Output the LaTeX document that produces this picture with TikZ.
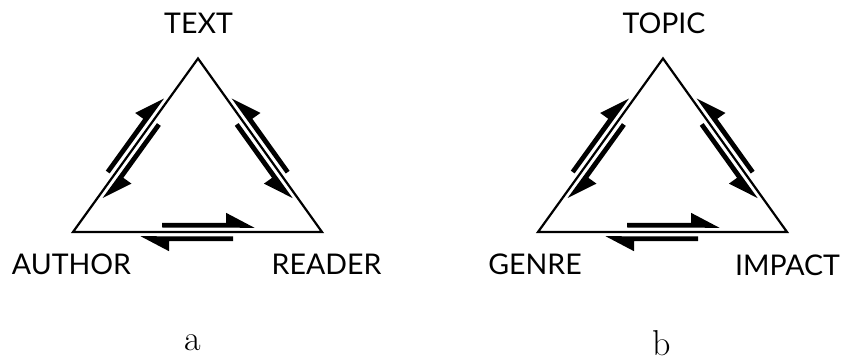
\documentclass[tikz,border=0pt]{standalone}
\usepackage{fontspec}
\setsansfont{Lato}
\usetikzlibrary{calc}
\tikzset{
  edgeline/.style={line width=2.2pt, line join=miter},
  harp/.style={fill=black, draw=none},
  lbl/.style={font=\fontsize{28.5}{30}\selectfont\sffamily, inner sep=0pt, anchor=base},
  captionlbl/.style={font=\fontsize{36}{40}\selectfont, inner sep=0pt, anchor=base},
}
% one harpoon in a local frame: tail x, tip x, on the +y side of the edge
\newcommand\hrpone[2]{%
  \pgfmathsetmacro\hrpbase{#2-28.5*sign(#2-#1)}%
  \fill[harp] (#1,4.5) -- (#1,9.2) -- (\hrpbase,9.2) -- (\hrpbase,19.2) -- (#2,4.2) -- cycle;}
% a pair of harpoons: forward tail, backward tail
\newcommand\hrppair[2]{%
  \pgfmathsetmacro\hrpfa{#1}\pgfmathsetmacro\hrpfb{#1+92.5}%
  \hrpone{\hrpfa}{\hrpfb}%
  \begin{scope}[yscale=-1]
    \pgfmathsetmacro\hrpba{#2}\pgfmathsetmacro\hrpbb{#2-92.5}%
    \hrpone{\hrpba}{\hrpbb}%
  \end{scope}}
% the triangle with its harpoons; #1 prefix for names
\newcommand\trifig[1]{%
  \coordinate (#1L) at (73,-232);
  \coordinate (#1T) at (198,-58.5);
  \coordinate (#1R) at (322,-232);
  \draw[edgeline] (#1L) -- (#1T) -- (#1R) -- cycle;
  \begin{scope}[shift={($(#1L)!0.5!(#1R)$)}]
    \hrppair{-35.5}{35.5}
  \end{scope}
  \begin{scope}[shift={($(#1L)!0.5!(#1T)$)}, rotate=54.18]
    \hrppair{-38}{30.5}
  \end{scope}
  \begin{scope}[shift={($(#1R)!0.5!(#1T)$)}, rotate=125.6, yscale=-1]
    \hrppair{-38}{30.5}
  \end{scope}}
\begin{document}
\begin{tikzpicture}[x=1pt, y=1pt]
  \useasboundingbox (0,0) rectangle (847,-363);
  \fill[white] (0,0) rectangle (847,-363);
  % diagram a
  \trifig{a}
  \node[lbl] (text) at (198.5,-34) {TEXT};
  \node[lbl] (author) at (71.5,-275) {AUTHOR};
  \node[lbl] (reader) at (326.5,-275) {READER};
  \node[captionlbl] (capa) at (192.5,-351) {a};
  % diagram b
  \begin{scope}[xshift=465pt]
    \trifig{b}
  \end{scope}
  \node[lbl] (topic) at (664,-34) {TOPIC};
  \node[lbl] (genre) at (535,-275) {GENRE};
  \node[lbl] (impact) at (787.5,-276) {IMPACT};
  \node[captionlbl] (capb) at (662,-356) {b};
\end{tikzpicture}
\end{document}
